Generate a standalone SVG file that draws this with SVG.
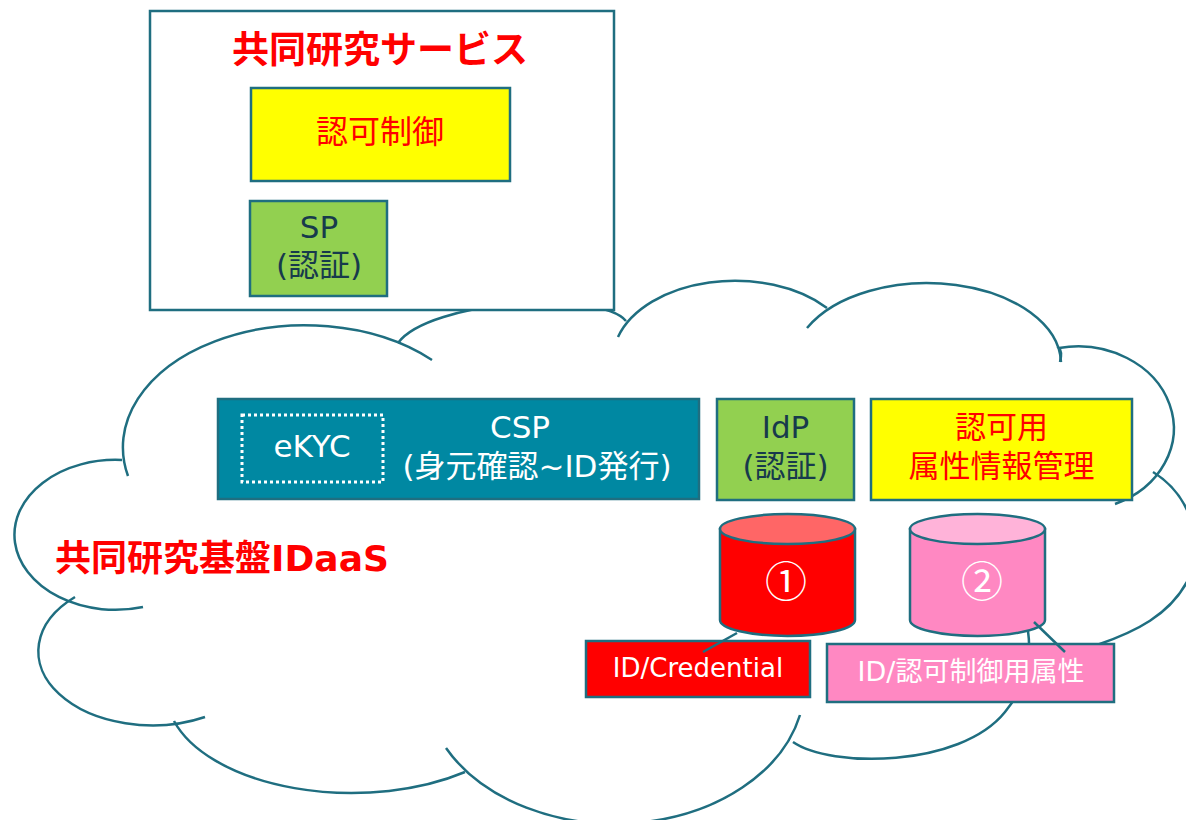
<svg xmlns="http://www.w3.org/2000/svg" width="1186" height="820" viewBox="0 0 1186 820">
<style>
.cl{fill:none;stroke:#1F6E80;stroke-width:2.5}
.bx{stroke:#1F6E80;stroke-width:2.5}
.t{font-family:"DejaVu Sans","Noto Sans CJK JP",sans-serif;text-anchor:middle}
.jp{font-family:"Noto Sans CJK JP",sans-serif;text-anchor:middle}
.red{fill:#FF0000}
.dk{fill:#173A4C}
.wh{fill:#FFFFFF}
</style>
<rect width="1186" height="820" fill="#FFFFFF"/>
<g id="cloud">
<path class="cl" d="M122,460 A101,75 0 1 0 143,607"/>
<path class="cl" d="M75,597 A114,74 0 0 0 205,717"/>
<path class="cl" d="M174,721 A185,100 0 0 0 465,772"/>
<path class="cl" d="M446,748 A190,140 0 0 0 800,715"/>
<path class="cl" d="M793,742 C830,768 960,768 1005,712 C1025,688 1032,660 1028,631"/>
<path class="cl" d="M1153,472 C1190,495 1205,540 1188,580 C1170,615 1135,632 1097,645"/>
<path class="cl" d="M1060,362 C1062,354 1061,350 1059,348 A96,82 0 0 1 1115,504"/>
<path class="cl" d="M807,328 A134,81 0 0 1 1061,362"/>
<path class="cl" d="M618,337 A122,79 0 0 1 827,308"/>
<path class="cl" d="M398,343 C430,300 600,290 626,321"/>
<path class="cl" d="M128,476 A182,122 0 0 1 432,360"/>
</g>
<g id="service">
<rect class="bx" x="150" y="11" width="464" height="299" fill="#FFFFFF"/>
<text class="jp red" x="380" y="63" font-size="37" font-weight="700">共同研究サービス</text>
</g>
<g id="authz">
<rect class="bx" x="251" y="88" width="259" height="93" fill="#FFFF00"/>
<text class="jp red" x="380" y="143" font-size="32">認可制御</text>
</g>
<g id="sp">
<rect class="bx" x="250" y="201" width="137" height="95" fill="#92D050"/>
<text class="t dk" x="319" y="238" font-size="31">SP</text>
<text class="t dk" x="319" y="276" font-size="31">(認証)</text>
</g>
<g id="csp">
<rect class="bx" x="218" y="399" width="481" height="100" fill="#0088A2"/>
<rect x="242" y="415" width="141" height="67" fill="none" stroke="#FFFFFF" stroke-width="3" stroke-dasharray="3,3"/>
<text class="t wh" x="312" y="457" font-size="31">eKYC</text>
<text class="t wh" x="520" y="438" font-size="31">CSP</text>
<text class="t wh" x="537" y="477" font-size="31">(身元確認~ID発行)</text>
</g>
<g id="idp">
<rect class="bx" x="717" y="399" width="137" height="101" fill="#92D050"/>
<text class="t dk" x="785.5" y="438" font-size="31">IdP</text>
<text class="t dk" x="785.5" y="477" font-size="31">(認証)</text>
</g>
<g id="attr">
<rect class="bx" x="871" y="399" width="261" height="101" fill="#FFFF00"/>
<text class="t red" x="1001.5" y="438" font-size="31">認可用</text>
<text class="t red" x="1001.5" y="477" font-size="31">属性情報管理</text>
</g>
<g id="db1">
<path class="bx" d="M720,529 L720,620 A67.5,16 0 0 0 855,620 L855,529 Z" fill="#FF0000"/>
<ellipse class="bx" cx="787.5" cy="529" rx="67.5" ry="15" fill="#FF6666"/>
<text class="jp wh" x="786" y="597" font-size="42">①</text>
</g>
<g id="db2">
<path class="bx" d="M910,529 L910,620 A67.5,16 0 0 0 1045,620 L1045,529 Z" fill="#FF88C2"/>
<ellipse class="bx" cx="977.5" cy="529" rx="67.5" ry="15" fill="#FFB3D9"/>
<text class="jp wh" x="982" y="597" font-size="42">②</text>
</g>
<g id="label1">
<rect class="bx" x="586" y="641" width="224" height="56" fill="#FF0000"/>
<text class="t wh" x="698" y="677" font-size="26">ID/Credential</text>
</g>
<g id="label2">
<rect class="bx" x="827" y="644" width="287" height="58" fill="#FF88C2"/>
<text class="t wh" x="971" y="681" font-size="27">ID/認可制御用属性</text>
</g>
<g id="connectors">
<line class="cl" x1="737" y1="633" x2="703" y2="652"/>
<line class="cl" x1="1034" y1="622" x2="1065" y2="652"/>
</g>
<g id="idaas">
<text class="t red" x="222" y="571" font-size="36" font-weight="700">共同研究基盤IDaaS</text>
</g>
</svg>
